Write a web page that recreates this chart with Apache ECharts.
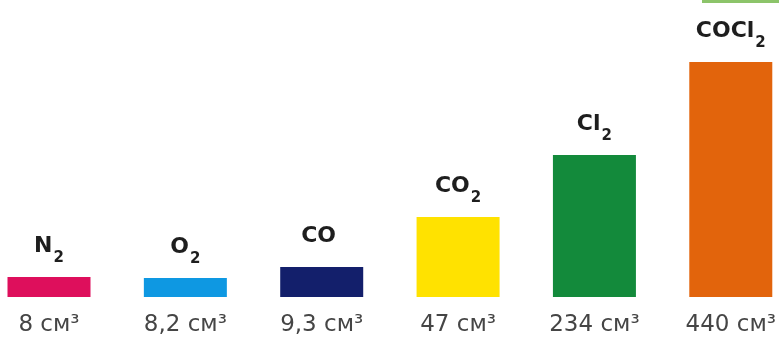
<!DOCTYPE html>
<html>
<head>
<meta charset="utf-8">
<script src="https://cdn.jsdelivr.net/npm/echarts@6/dist/echarts.min.js"></script>
<style>
html,body{margin:0;padding:0;background:#fff;}
#chart{width:779px;height:337px;}
</style>
</head>
<body>
<div id="chart"></div>
<script>
// Gas formulas (digits are written as subscripts)
const categories = ['N2', 'O2', 'CO', 'CO2', 'Cl2', 'COCl2'];
// Printed volumes (cm³) under each bar
const volumes = [8, 8.2, 9.3, 47, 234, 440];
const volumeUnit = 'см³';
// Bar heights as drawn in the picture (pictorial, not to scale of the volumes)
const barHeights = [20, 19, 30, 80, 142, 235];
const barColors = ['#de0f5c', '#0e98e2', '#131f6b', '#ffe200', '#138a3b', '#e2640c'];

const chart = echarts.init(document.getElementById('chart'));

function formulaRich(name) {
  const parts = name.match(/[A-Za-z]+|\d+/g) || [];
  let out = parts.map(p => /\d/.test(p) ? '{s|' + p + '}' : '{m|' + p + '}').join('');
  if (!/\d/.test(name)) out += '{s| }';
  return out;
}

function fmtVolume(v) {
  return String(v).replace('.', ',') + ' ' + volumeUnit;
}

chart.setOption({
  animation: false,
  backgroundColor: '#ffffff',
  grid: { left: 49, right: 48, top: 0, bottom: 40, containLabel: false },
  xAxis: {
    type: 'category',
    data: categories,
    boundaryGap: false,
    axisLine: { show: false },
    axisTick: { show: false },
    axisLabel: {
      interval: 0,
      margin: 17,
      fontFamily: 'DejaVu Sans',
      fontSize: 23,
      lineHeight: 23,
      color: '#454545',
      formatter: (val, idx) => fmtVolume(volumes[idx])
    }
  },
  yAxis: {
    type: 'value',
    min: 0,
    max: 297,
    show: false,
    splitLine: { show: false }
  },
  graphic: [
    { type: 'rect', shape: { x: 702, y: 0, width: 77, height: 3 }, style: { fill: '#8cc46a' } }
  ],
  series: [{
    type: 'bar',
    barWidth: 83,
    data: barHeights.map((h, i) => ({ value: h, itemStyle: { color: barColors[i] } })),
    label: {
      show: true,
      position: 'top',
      distance: 20,
      formatter: p => formulaRich(categories[p.dataIndex]),
      rich: {
        m: {
          fontFamily: 'DejaVu Sans',
          fontWeight: 'bold',
          fontSize: 22,
          lineHeight: 22,
          color: '#1e1e1e'
        },
        s: {
          fontFamily: 'DejaVu Sans',
          fontWeight: 'bold',
          fontSize: 15,
          lineHeight: 15,
          color: '#1e1e1e',
          padding: [24, 0, 0, 1]
        }
      }
    }
  }]
});
</script>
</body>
</html>
